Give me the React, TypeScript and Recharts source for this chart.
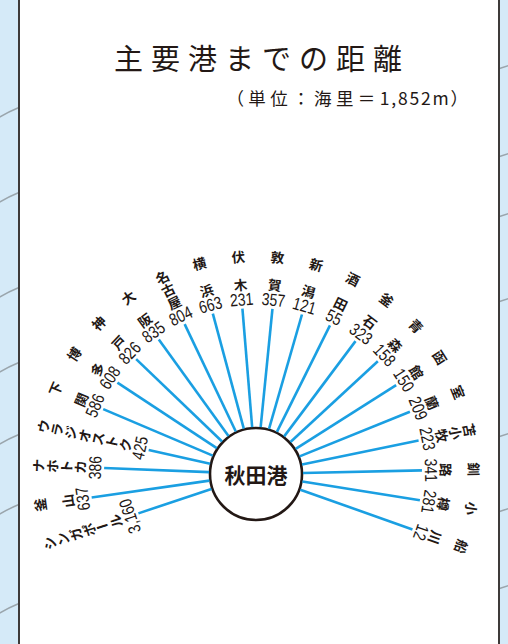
import React from 'react';
import { PieChart, Pie } from 'recharts';

// ports clockwise from the lower left, with sea distance from Akita (nautical miles)
const ports = [
  'シンガポール', '釜山', 'ナホトカ', 'ウラジオストク', '下関', '博多', '神戸', '大阪',
  '名古屋', '横浜', '伏木', '敦賀', '新潟', '酒田', '釜石', '青森', '函館', '室蘭',
  '苫小牧', '釧路', '小樽', '船川',
];
const distances = [
  3160, 637, 386, 425, 586, 608, 826, 835, 804, 663, 231, 357, 121, 55, 323, 158, 150, 209,
  223, 341, 281, 12,
];
const hubName = '秋田港';
const title = '主要港までの距離';
const unitHead = '（単位：海里＝';
const unitValue = '1,852m';
const unitTail = '）';

const W = 508;
const H = 644;
const CX = 256;
const CY = 474;
const HUB_R = 46;
const START = 203.7;
const END = -24.7;
const MAX_REACH = 166;
const LABEL_EDGE = 218.5;
const FIRST = 24.5;
const PITCH = 14;

const BLUE = '#1a9fe2';
const INK = '#231815';
const NUM_FONT = "'Liberation Sans', Arial, sans-serif";
const JP_FONT = "'Noto Sans CJK JP', 'Noto Sans', sans-serif";

const spokes = ports.map((port, i) => ({ port, miles: distances[i], share: 1 }));

const renderSpoke = (props: any) => {
  const { cx, cy, midAngle, index } = props;
  const chars = Array.from(ports[index]);
  const depth = FIRST + (Math.max(3, chars.length) - 1) * PITCH;
  const reach = Math.min(MAX_REACH, LABEL_EDGE - depth);
  const rad = (-midAngle * Math.PI) / 180;
  const x0 = cx + (HUB_R + 1) * Math.cos(rad);
  const y0 = cy + (HUB_R + 1) * Math.sin(rad);
  const x1 = cx + reach * Math.cos(rad);
  const y1 = cy + reach * Math.sin(rad);
  const spots =
    chars.length === 2
      ? [FIRST + 2 * PITCH, FIRST]
      : chars.map((_, k) => FIRST + (chars.length - 1 - k) * PITCH);
  return (
    <g>
      <line x1={x0} y1={y0} x2={x1} y2={y1} stroke={BLUE} strokeWidth={2.6} />
      <g transform={`translate(${x1},${y1}) rotate(${90 - midAngle})`}>
        <text
          x={0}
          y={-3}
          textAnchor="middle"
          fontSize={17.5}
          fontFamily={NUM_FONT}
          fill={INK}
          transform="scale(0.8,1)"
        >
          {distances[index].toLocaleString('en-US')}
        </text>
        {chars.map((ch, k) => (
          <text
            key={k}
            x={0}
            y={-spots[k]}
            textAnchor="middle"
            dominantBaseline="central"
            fontSize={13.5}
            fontWeight={700}
            fontFamily={JP_FONT}
            fill={INK}
            transform={ch === 'ー' ? `rotate(90 0 ${-spots[k]})` : undefined}
          >
            {ch}
          </text>
        ))}
      </g>
    </g>
  );
};

const leftContours = [110, 195, 290, 365, 437, 507, 606];
const rightContours = [67, 155, 215, 300, 435, 510, 587];

export default function App() {
  return (
    <div style={{ position: 'absolute', left: 0, top: 0, width: W, height: H, background: '#d5eaf8', overflow: 'hidden' }}>
      <svg width={W} height={H} style={{ position: 'absolute', left: 0, top: 0 }}>
        {leftContours.map((y, i) => (
          <path key={`l${i}`} d={`M-2 ${y + 8} Q 8 ${y + 2} 20 ${y - 3}`} stroke="#9aa5ac" strokeWidth={1.5} fill="none" />
        ))}
        {rightContours.map((y, i) => (
          <path key={`r${i}`} d={`M498 ${y + 2} Q 504 ${y} 510 ${y - 2}`} stroke="#9aa5ac" strokeWidth={1.5} fill="none" />
        ))}
      </svg>
      <div
        style={{
          position: 'absolute', left: 18, top: 0, width: 482, height: H, background: '#fff',
          borderLeft: '2px solid #3e3a39', borderRight: '2px solid #3e3a39', boxSizing: 'border-box',
        }}
      />
      <div style={{ position: 'absolute', left: 0, top: 0 }}>
        <PieChart width={W} height={H} margin={{ top: 0, right: 0, bottom: 0, left: 0 }}>
          <text x={262} y={70} textAnchor="middle" fontSize={29} letterSpacing={8} fontFamily={JP_FONT} fill={INK}>
            {title}
          </text>
          <text x={468} y={105} textAnchor="end" fontSize={17.5} fontFamily={JP_FONT} fill={INK}>
            <tspan letterSpacing={4.4}>{unitHead}</tspan>
            <tspan letterSpacing={1.8}>{unitValue}</tspan>
            <tspan>{unitTail}</tspan>
          </text>
          <Pie
            data={spokes}
            dataKey="share"
            nameKey="port"
            cx={CX}
            cy={CY}
            startAngle={START}
            endAngle={END}
            innerRadius={0}
            outerRadius={HUB_R}
            fill="none"
            stroke="none"
            label={renderSpoke}
            labelLine={false}
            isAnimationActive={false}
          />
          <circle cx={CX} cy={CY} r={HUB_R} fill="#fff" stroke={INK} strokeWidth={2.6} />
          <text x={CX} y={CY} textAnchor="middle" dominantBaseline="central" fontSize={21} fontWeight={700} fontFamily={JP_FONT} fill={INK}>
            {hubName}
          </text>
        </PieChart>
      </div>
    </div>
  );
}
